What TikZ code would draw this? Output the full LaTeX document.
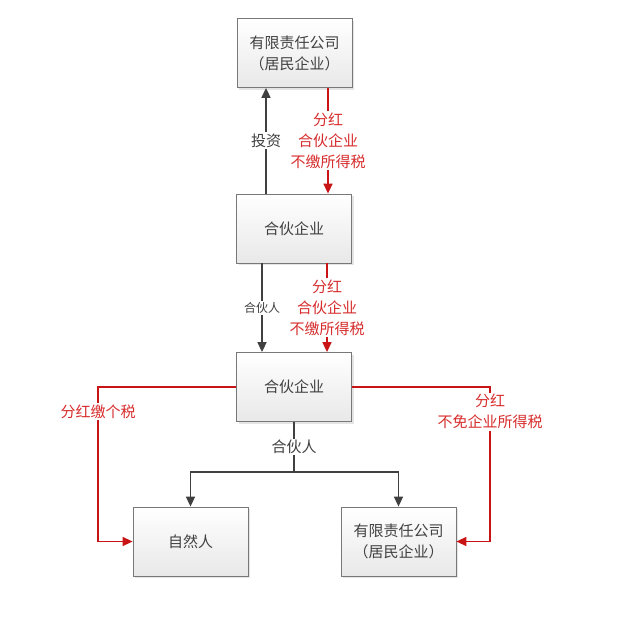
\documentclass[tikz,border=0pt]{standalone}
\usepackage{fontspec}
\setmainfont{Noto Sans CJK SC}
\usetikzlibrary{arrows.meta,shadows}
\definecolor{redline}{RGB}{200,20,20}
\definecolor{redtext}{RGB}{215,45,45}
\definecolor{boxline}{RGB}{120,120,120}
\definecolor{boxtext}{RGB}{64,64,64}
\definecolor{blkline}{RGB}{64,64,64}
\begin{document}
\begin{tikzpicture}[x=1pt,y=-1pt,
  box/.style={draw=boxline, line width=0.8pt, top color=white, bottom color=gray!18,
    minimum width=115pt, minimum height=69pt, inner sep=0pt, align=center,
    font=\fontsize{15}{21}\selectfont, text=boxtext,
    drop shadow={shadow xshift=2pt, shadow yshift=-2pt, fill=gray!35, opacity=0.6}},
  blk/.style={draw=blkline, line width=1.6pt, -{Triangle[length=10pt,width=9pt]}},
  rd/.style={draw=redline, line width=1.5pt, -{Triangle[length=10pt,width=9pt]}},
  rlab/.style={fill=white, text=redtext, align=center, inner sep=1.5pt, font=\fontsize{15}{21}\selectfont},
  blab/.style={fill=white, text=boxtext, align=center, inner sep=1.5pt, font=\fontsize{15}{21}\selectfont},
  slab/.style={fill=white, text=boxtext, align=center, inner sep=1.5pt, font=\fontsize{12}{15}\selectfont}
]
\useasboundingbox (0,0) rectangle (631,621);
\node[box] (b1) at (294.5,53) {有限责任公司\\（居民企业）};
\node[box] (b2) at (294,228.5) {合伙企业};
\node[box] (b3) at (294,387) {合伙企业};
\node[box] (b4) at (190.5,541.5) {自然人};
\node[box] (b5) at (398.5,541.5) {有限责任公司\\（居民企业）};

% level 1
\draw[blk] ([xshift=-28pt]b2.north) -- node[blab] {投资} ([xshift=-28.5pt]b1.south);
\draw[rd] ([xshift=33.5pt]b1.south) -- node[rlab] {分红\\合伙企业\\不缴所得税} ([xshift=34pt]b2.north);

% level 2
\draw[blk] ([xshift=-32pt]b2.south) -- node[slab] {合伙人} ([xshift=-32pt]b3.north);
\draw[rd] ([xshift=33pt]b2.south) -- node[rlab] {分红\\合伙企业\\不缴所得税} ([xshift=33pt]b3.north);

% level 3
\coordinate (j) at (294,472);
\draw[draw=blkline, line width=1.6pt] (b3.south) -- node[blab] {合伙人} (j);
\draw[blk] (j) -| (b4.north);
\draw[blk] (j) -| (b5.north);

\coordinate (l1) at (98,387);
\coordinate (l2) at (98,541.5);
\draw[rd] (b3.west) -- (l1) -- node[rlab, pos=0.16] {分红缴个税} (l2) -- (b4.west);

\coordinate (r1) at (490,387);
\coordinate (r2) at (490,541.5);
\draw[rd] (b3.east) -- (r1) -- node[rlab, pos=0.16] {分红\\不免企业所得税} (r2) -- (b5.east);
\end{tikzpicture}
\end{document}
